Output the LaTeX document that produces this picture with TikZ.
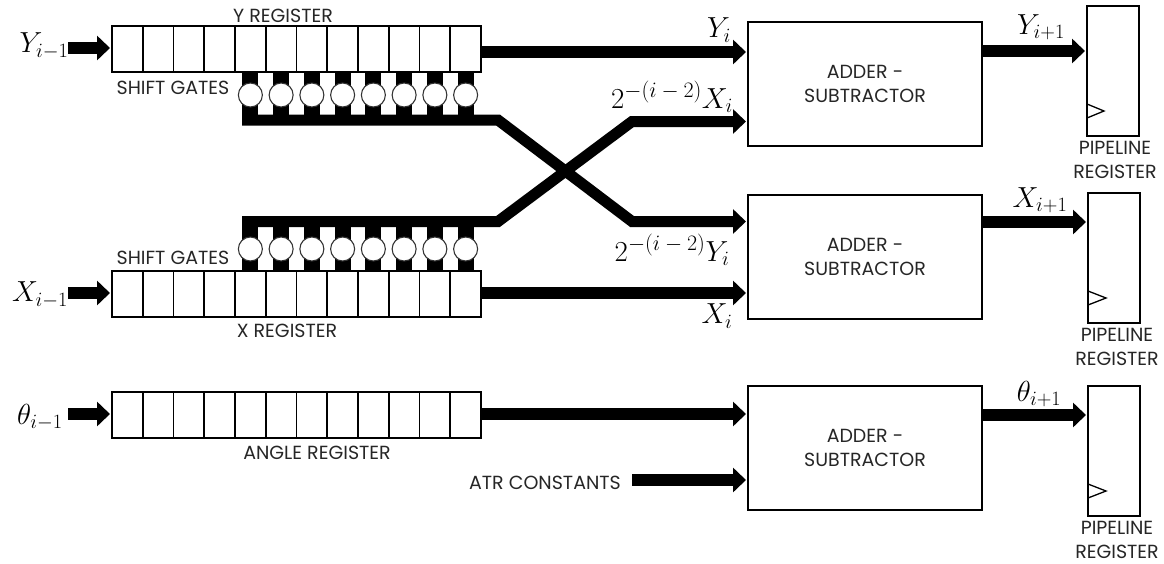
\documentclass[tikz,border=0pt]{standalone}
\usepackage{fix-cm}
\usepackage{fontspec}
\setmainfont{Poppins}
\usetikzlibrary{arrows.meta}
\newcommand{\shiftpow}{2^{\mbox{\fontsize{22}{22}\selectfont$-(i-2)$}}}
\begin{document}
\begin{tikzpicture}[
  x=1pt, y=-1pt,
  cell/.style={draw, line width=1.6pt, minimum width=30.75pt, minimum height=46pt, inner sep=0pt, outer sep=0pt, anchor=north west},
  gate/.style={draw=black!80, fill=white, circle, line width=1.1pt, minimum size=24pt, inner sep=0pt},
  block/.style={draw, line width=1.6pt, minimum width=234pt, minimum height=124pt, align=center, anchor=north west, inner sep=0pt, outer sep=0pt, text=black!85, font=\fontsize{19}{24}\selectfont},
  pipe/.style={draw, line width=1.6pt, minimum width=52pt, minimum height=130pt, inner sep=0pt, outer sep=0pt, anchor=north west},
  clock/.style={line width=1.3pt},
  stub/.style={line width=16pt},
  arrow/.style={line width=12pt, shorten >=2pt, -{Triangle[length=13pt,width=24pt]}},
  bus/.style={arrow, line width=11pt},
  tag/.style={inner sep=0pt, font=\fontsize{19}{24}\selectfont, align=center, text=black!85},
  sym/.style={inner sep=0pt, font=\fontsize{29}{29}\selectfont}
]
\useasboundingbox (0,0) rectangle (1164,563);
% registers
\foreach \i in {1,...,12} {
  \node (yc\i) [cell] at ({112+30.75*(\i-1)},26) {};
  \node (xc\i) [cell] at ({112+30.75*(\i-1)},271) {};
  \node (ac\i) [cell] at ({112+30.75*(\i-1)},392) {};
}
\node (yreg) [tag] at (283,16) {Y REGISTER};
\node (xreg) [tag] at (287,331) {X REGISTER};
\node (areg) [tag] at (317,453) {ANGLE REGISTER};
\node (ysg) [tag] at (173,88) {SHIFT GATES};
\node (xsg) [tag] at (173,258) {SHIFT GATES};
% adders and pipeline registers
\node (add1) [block] at (748,22) {ADDER -\\SUBTRACTOR};
\node (add2) [block] at (748,195) {ADDER -\\SUBTRACTOR};
\node (add3) [block] at (748,386) {ADDER -\\SUBTRACTOR};
\node (pr1) [pipe] at (1087,6) {};
\node (pr2) [pipe] at (1088,193) {};
\node (pr3) [pipe] at (1088,386) {};
\node (pl1) [tag] at (1115,160) {PIPELINE\\REGISTER};
\node (pl2) [tag] at (1117,347) {PIPELINE\\REGISTER};
\node (pl3) [tag] at (1117,540) {PIPELINE\\REGISTER};
\draw[clock] (pr1.west |- 0,104) -- (1104,111) -- (pr1.west |- 0,118);
\draw[clock] (pr2.west |- 0,291) -- (1106,298) -- (pr2.west |- 0,305);
\draw[clock] (pr3.west |- 0,484) -- (1106,491) -- (pr3.west |- 0,498);
% bus coordinates
\coordinate (ybl) at (242,120);
\coordinate (ybm) at (498,120);
\coordinate (ybr) at (632,221.5);
\coordinate (xbl) at (242,221.5);
\coordinate (xbm) at (498,221.5);
\coordinate (xbr) at (632,121.5);
\coordinate (yin) at (112,48);
\coordinate (xin) at (112,293);
\coordinate (ain) at (112,414);
\coordinate (yi0) at (68,48);
\coordinate (xi0) at (68,293);
\coordinate (ai0) at (68,414);
\coordinate (con) at (632,480);
% shift gates
\foreach \i in {5,...,12} {
  \draw[stub] (yc\i.south) -- (yc\i.south |- ybl);
  \draw[stub] (xc\i.north) -- (xc\i.north |- xbl);
  \node (yg\i) [gate] at (yc\i.south |- 0,95) {};
  \node (xg\i) [gate] at (xc\i.north |- 0,249) {};
}
\draw[bus] (ybl) -- (ybm) -- (ybr) -- (ybr -| add2.west);
\draw[bus] (xbl) -- (xbm) -- (xbr) -- (xbr -| add1.west);
% inputs
\draw[arrow] (yi0) -- (yin);
\draw[arrow] (xi0) -- (xin);
\draw[arrow] (ai0) -- (ain);
% register outputs
\draw[arrow] (yc12.east |- 0,52) -- (add1.west |- 0,52);
\draw[arrow] (xc12.east |- 0,293) -- (add2.west |- 0,293);
\draw[arrow] (ac12.east |- 0,414) -- (add3.west |- 0,414);
\draw[arrow] (con) -- (add3.west |- con);
% adder outputs
\draw[arrow] (add1.east |- 0,51) -- (pr1.west |- 0,51);
\draw[arrow] (add2.east |- 0,222) -- (pr2.west |- 0,222);
\draw[arrow] (add3.east |- 0,415) -- (pr3.west |- 0,415);
\node (atr) [tag] at (545,483) {ATR CONSTANTS};
% signal names
\node (ym) [sym] at (44,46) {$Y_{i-1}$};
\node (xm) [sym] at (40,295) {$X_{i-1}$};
\node (tm) [sym] at (40,417) {$\theta_{i-1}$};
\node (yo) [sym] at (719,30) {$Y_i$};
\node (xo) [sym] at (717,316) {$X_i$};
\node (xs) [sym] at (672,97) {$\shiftpow X_i$};
\node (ys) [sym] at (672,250) {$\shiftpow Y_i$};
\node (yn) [sym] at (1041,27) {$Y_{i+1}$};
\node (xn) [sym] at (1040,200) {$X_{i+1}$};
\node (tn) [sym] at (1039,394) {$\theta_{i+1}$};
\end{tikzpicture}
\end{document}
